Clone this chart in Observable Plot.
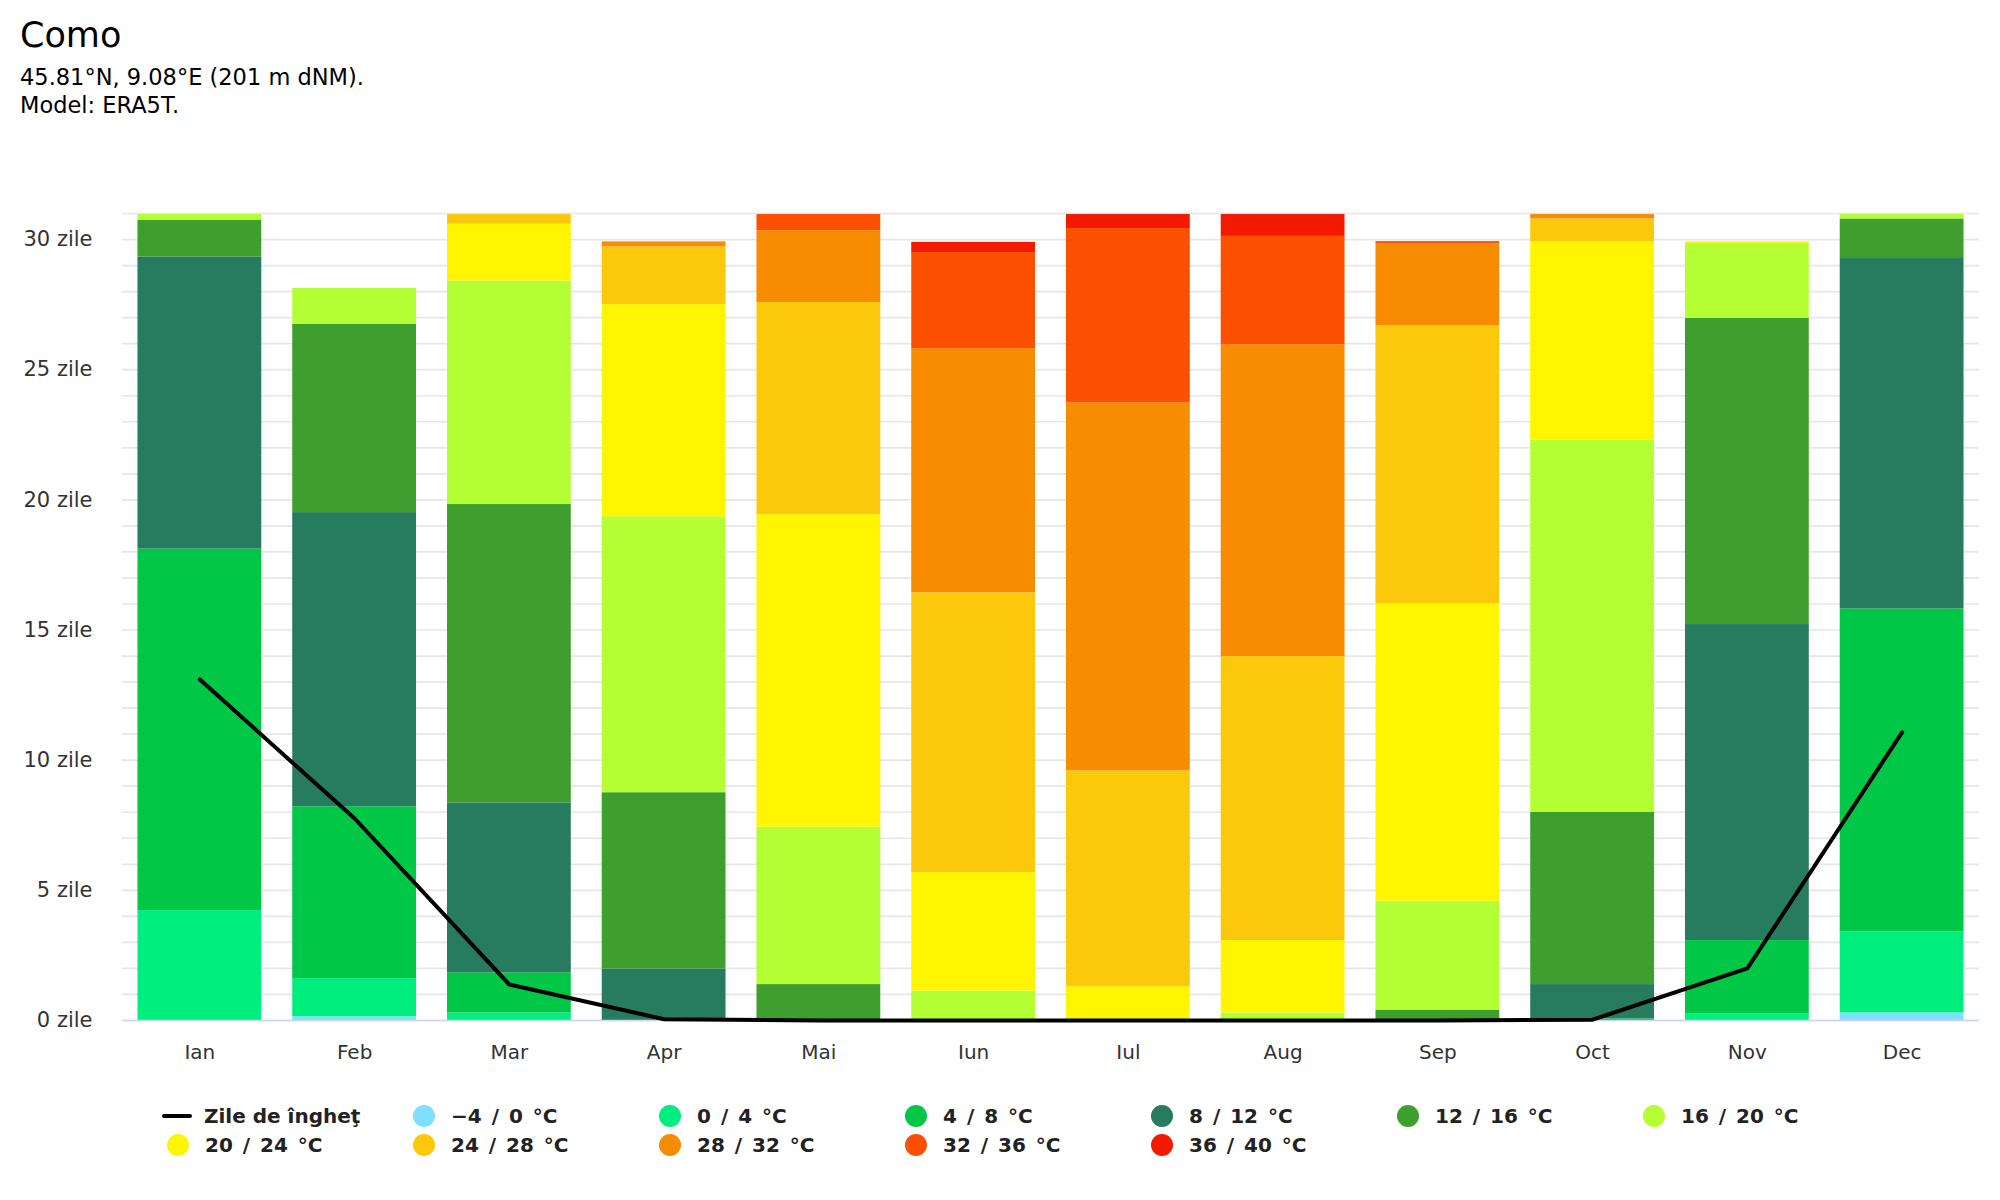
<!DOCTYPE html>
<html><head><meta charset="utf-8">
<script src="https://cdn.jsdelivr.net/npm/d3@7"></script>
<script src="https://cdn.jsdelivr.net/npm/@observablehq/plot@0.6"></script>
<style>
body{margin:0;background:#fff;font-family:"DejaVu Sans",sans-serif;}
#wrap{position:relative;width:2000px;height:1200px;overflow:hidden;}
#head{position:relative;height:150px;}
.t{position:absolute;left:20px;white-space:nowrap;line-height:1;color:#000;}
#chart{height:930px;}
#legend{position:relative;height:120px;}
.li{position:absolute;display:flex;align-items:center;height:24px;font-weight:bold;font-size:20px;line-height:1;white-space:nowrap;color:#222;}
.dot{width:22px;height:22px;border-radius:50%;margin-right:16px;flex:none;}
.ln{width:30px;height:3.5px;border-radius:2px;background:#000;margin-right:12px;flex:none;}
.cl{word-spacing:3px;}
</style></head><body>
<div id="wrap">
<div id="head">
 <div class="t" style="top:18px;font-size:35px">Como</div>
 <div class="t" style="top:66px;font-size:22.5px">45.81°N, 9.08°E (201 m dNM).</div>
 <div class="t" style="top:94px;font-size:22.5px">Model: ERA5T.</div>
</div>
<div id="chart"></div>
<div id="legend"></div>
</div>
<script>
const months = ["Ian","Feb","Mar","Apr","Mai","Iun","Iul","Aug","Sep","Oct","Nov","Dec"];
const classes = ["−4 / 0 °C","0 / 4 °C","4 / 8 °C","8 / 12 °C","12 / 16 °C","16 / 20 °C","20 / 24 °C","24 / 28 °C","28 / 32 °C","32 / 36 °C","36 / 40 °C"];
const colors = ["#80dfff","#00ee7d","#00c846","#277b5f","#3e9e2e","#b4ff34","#fff500","#fcc80c","#f78c00","#fc5000","#f41a00"];
const tM4to0   = [0, 0.14, 0, 0, 0, 0, 0, 0, 0, 0, 0, 0.29];
const t0to4    = [4.22, 1.47, 0.29, 0, 0, 0, 0, 0, 0, 0, 0.25, 3.11];
const t4to8    = [13.89, 6.60, 1.54, 0, 0, 0, 0, 0, 0, 0.06, 2.82, 12.41];
const t8to12   = [11.22, 11.30, 6.53, 1.98, 0, 0, 0, 0, 0.03, 1.32, 12.14, 13.46];
const t12to16  = [1.40, 7.23, 11.46, 6.77, 1.38, 0, 0, 0, 0.37, 6.61, 11.76, 1.52];
const t16to20  = [0.23, 1.38, 8.59, 10.60, 6.05, 1.13, 0, 0.29, 4.18, 14.30, 2.88, 0.17];
const t20to24  = [0, 0, 2.18, 8.15, 12.00, 4.55, 1.30, 2.78, 11.43, 7.62, 0.06, 0];
const t24to28  = [0, 0, 0.37, 2.22, 8.15, 10.75, 8.29, 10.91, 10.68, 0.88, 0, 0];
const t28to32  = [0, 0, 0, 0.19, 2.76, 9.38, 14.14, 11.98, 3.15, 0.17, 0, 0];
const t32to36  = [0, 0, 0, 0, 0.62, 3.69, 6.69, 4.16, 0.08, 0, 0, 0];
const t36to40  = [0, 0, 0, 0, 0, 0.39, 0.54, 0.84, 0, 0, 0, 0];
const frostDays = [13.1, 7.76, 1.38, 0.05, 0, 0, 0, 0, 0, 0.03, 2.0, 11.07];
const frostLabel = "Zile de îngheţ";
const yTicks = [0, 5, 10, 15, 20, 25, 30];
const gridTicks = d3.range(0, 32);

const series = [tM4to0, t0to4, t4to8, t8to12, t12to16, t16to20, t20to24, t24to28, t28to32, t32to36, t36to40];
const rows = [];
classes.forEach((c, i) => months.forEach((m, j) => rows.push({month: m, cls: c, value: series[i][j]})));
const frost = months.map((m, j) => ({month: m, value: frostDays[j]}));

const chart = Plot.plot({
  width: 2000, height: 930,
  marginTop: 63, marginBottom: 60, marginLeft: 122, marginRight: 21,
  style: {fontFamily: "DejaVu Sans", fontSize: "20px", color: "#333", background: "#fff"},
  x: {domain: months, paddingInner: 0.2, paddingOuter: 0.1, round: false, label: null},
  y: {domain: [0, 31], label: null},
  color: {domain: classes, range: colors},
  marks: [
    Plot.gridY({ticks: gridTicks, stroke: "#e6e6e6", strokeOpacity: 1, strokeWidth: 1.7}),
    Plot.barY(rows, {x: "month", y: "value", fill: "cls"}),
    Plot.ruleY([0], {stroke: "#ccd6eb", strokeWidth: 1.5}),
    Plot.line(frost, {x: "month", y: "value", stroke: "#000", strokeWidth: 4, strokeLinecap: "round", strokeLinejoin: "round"}),
    Plot.axisX({tickSize: 0, tickPadding: 24, fontSize: 20, fill: "#333"}),
    Plot.axisY({ticks: yTicks, tickSize: 0, tickPadding: 30, tickFormat: d => d + " zile", fontSize: 21, fill: "#333"})
  ]
});
document.getElementById("chart").appendChild(chart);

// legend
const legend = document.getElementById("legend");
const items = [{label: frostLabel, line: true}].concat(classes.map((c, i) => ({label: c, color: colors[i]})));
const perRow = 7, colStart = 167, colStep = 246, rowTop = [24, 53];
items.forEach((it, k) => {
  const row = Math.floor(k / perRow), col = k % perRow;
  const div = document.createElement("div");
  div.className = "li";
  div.style.top = rowTop[row] + "px";
  const sym = document.createElement("span");
  if (it.line) { sym.className = "ln"; div.style.left = (colStart - 5 + col * colStep) + "px"; }
  else { sym.className = "dot"; sym.style.background = it.color; div.style.left = (colStart + col * colStep) + "px"; }
  div.appendChild(sym);
  const tx = document.createElement("span");
  tx.textContent = it.label;
  if (!it.line) tx.className = "cl";
  div.appendChild(tx);
  legend.appendChild(div);
});
</script>
</body></html>
